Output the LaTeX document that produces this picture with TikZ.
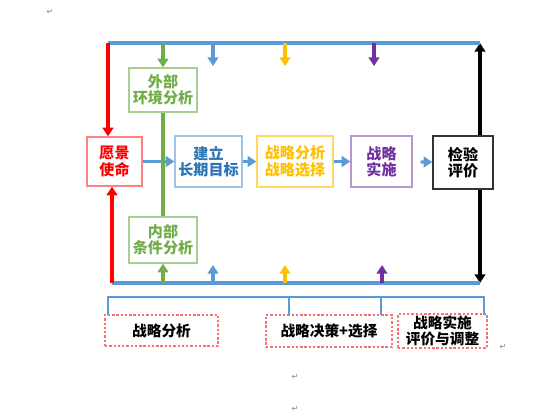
\documentclass[tikz,border=0pt]{standalone}
\usepackage{fontspec}
\setmainfont{Noto Sans CJK SC}
\newfontfamily\symfont{DejaVu Sans}
\usepackage{xcolor}
\usetikzlibrary{arrows.meta}

\definecolor{ored}{RGB}{255,0,0}
\definecolor{ogreen}{RGB}{112,173,71}
\definecolor{oblue}{RGB}{91,155,213}
\definecolor{oyellow}{RGB}{255,192,0}
\definecolor{opurple}{RGB}{112,48,160}
\definecolor{bluetext}{RGB}{46,117,182}
\definecolor{tagred}{RGB}{255,110,110}

\tikzset{
  box/.style={draw, line width=1pt, fill=white, inner sep=0pt, align=center,
    font=\fontsize{11.3}{12.2}\selectfont\bfseries},
  tagbox/.style={draw=tagred, line width=1.8pt, dash pattern=on 1.8pt off 1.4pt,
    inner sep=0pt, align=center, font=\fontsize{11}{12}\selectfont\bfseries},
  tip/.style={-{Triangle[width=8pt,length=6.5pt]}},
  feed/.style={line width=2.5pt, tip},
  para/.style={gray, font=\symfont\fontsize{6}{6}\selectfont}
}

\begin{document}
\begin{tikzpicture}[x=0.75pt,y=-0.75pt]
		\useasboundingbox (0,0) rectangle (555,418);
		
		\coordinate (tl) at (108,43);
		\coordinate (tr) at (480,43);
		\coordinate (bl) at (112,283);
		\coordinate (br) at (480,283);
		
		% black return line behind the last box
		\draw[line width=2.5pt, {Triangle[width=8pt,length=6.5pt]}-{Triangle[width=8pt,length=6.5pt]}] (br) -- (tr);
		
		\node[box, draw=ored!50, text=ored, minimum width=41.25pt, minimum height=36.75pt] (yj) at (114.5,161.5) {愿景\\使命};
		\node[box, draw=ogreen!60, text=ogreen, minimum width=51pt, minimum height=33pt] (wb) at (163,90) {外部\\环境分析};
		\node[box, draw=ogreen!60, text=ogreen, minimum width=51pt, minimum height=34.5pt] (nb) at (163,240) {内部\\条件分析};
		\node[box, draw=oblue!60, text=bluetext, minimum width=50.25pt, minimum height=38.25pt] (jl) at (208.5,161.5) {建立\\长期目标};
		\node[box, draw=oyellow!60, text=oyellow, minimum width=57pt, minimum height=38.25pt] (fx) at (295,161.5) {战略分析\\战略选择};
		\node[box, draw=opurple!50, text=opurple, minimum width=45.75pt, minimum height=38.25pt] (ss) at (381.5,161.5) {战略\\实施};
		\node[box, draw=black!80, minimum width=45pt, minimum height=39.75pt] (jy) at (463,162.5) {检验\\评价};
		
		\draw[oblue, line width=3.2pt] (tl) -- (tr);
		\draw[oblue, line width=3.2pt] (bl) -- (br);
		
		% feedback arrows
		\draw[feed, ored] (tl) -- (tl |- yj.north);
		\draw[feed, ored] (bl) -- (bl |- yj.south);
		\draw[oblue, line width=2.5pt, tip] (yj) -- (jl);
		\draw[ogreen, line width=2.5pt] (wb) -- (nb);
		\draw[feed, ogreen] (wb.north |- tl) -- (wb.north);
		\draw[feed, ogreen] (nb.south |- bl) -- (nb.south);
		
		\coordinate (b1) at (213,66);
		\coordinate (b2) at (213,265);
		\coordinate (y1) at (285,66);
		\coordinate (y2) at (285,265);
		\coordinate (p1) at (374,66);
		\coordinate (p2) at (382,265);
		\draw[feed, oblue] (b1 |- tl) -- (b1);
		\draw[feed, oblue] (b2 |- bl) -- (b2);
		\draw[feed, oyellow] (y1 |- tl) -- (y1);
		\draw[feed, oyellow] (y2 |- bl) -- (y2);
		\draw[feed, opurple] (p1 |- tl) -- (p1);
		\draw[feed, opurple] (p2 |- bl) -- (p2);
		
		\draw[oblue, line width=2.5pt, tip] (jl) -- (fx);
		\draw[oblue, line width=2.5pt, tip] (fx) -- (ss);
		\draw[oblue, line width=2.5pt, tip, shorten <=6pt] (ss) -- (jy);
		
		% stage labels
		\node[tagbox, minimum width=84.75pt, minimum height=23.25pt] (s1) at (161.5,330.5) {战略分析};
		\node[tagbox, minimum width=94.5pt, minimum height=24pt] (s2) at (329,331) {战略决策+选择};
		\node[tagbox, minimum width=66.75pt, minimum height=25.5pt] (s3) at (442.5,331) {战略实施\\评价与调整};
		
		\coordinate (k1) at (108,315);
		\coordinate (k2) at (289,315);
		\coordinate (k3) at (381,315);
		\coordinate (k4) at (484,315);
		\draw[oblue, line width=2.2pt] (k1) -- (108,297) -- (484,297) -- (k4);
		\draw[oblue, line width=2.2pt] (k2) -- (k2 |- 0,297);
		\draw[oblue, line width=2.2pt] (k3) -- (k3 |- 0,297);
		
		\node[para] (m1) at (50,12) {↵};
		\node[para] (m2) at (503,347) {↵};
		\node[para] (m3) at (295,377) {↵};
		\node[para] (m4) at (295,409) {↵};
	\end{tikzpicture}
\end{document}
